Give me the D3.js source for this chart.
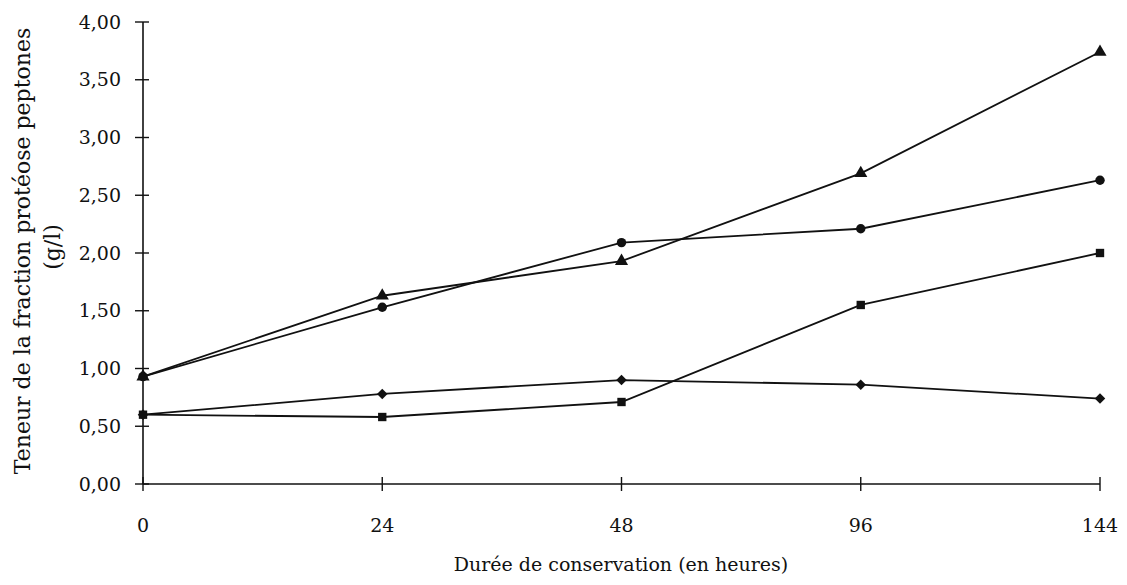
<!DOCTYPE html>
<html><head><meta charset="utf-8">
<script src="https://cdn.jsdelivr.net/npm/d3@7"></script>
<style>body{margin:0;background:#fff}svg{display:block}text{font-family:"DejaVu Serif","Liberation Serif",serif;fill:#111}</style>
</head><body><svg id="c" width="1127" height="585"></svg>
<script>
const categories = ["0","24","48","96","144"];
const yTicks = [0,0.5,1,1.5,2,2.5,3,3.5,4];
const triangleSeries = [0.93,1.63,1.93,2.69,3.74];
const circleSeries = [0.93,1.53,2.09,2.21,2.63];
const squareSeries = [0.60,0.58,0.71,1.55,2.00];
const diamondSeries = [0.60,0.78,0.90,0.86,0.74];
const xTitle = "Durée de conservation (en heures)";
const yTitle1 = "Teneur de la fraction protéose peptones";
const yTitle2 = "(g/l)";

const series = [
  {vals: diamondSeries, sym: d3.symbolDiamond2, size: 70},
  {vals: squareSeries, sym: d3.symbolSquare, size: 70},
  {vals: circleSeries, sym: d3.symbolCircle, size: 70},
  {vals: triangleSeries, sym: d3.symbolTriangle, size: 75}
];

const svg = d3.select("#c");
const x = d3.scalePoint().domain(categories).range([143,1100]);
const y = d3.scaleLinear().domain([0,4]).range([484,22]);
const fmt = v => d3.format(".2f")(v).replace(".", ",");

// y axis
const ya = svg.append("g").attr("transform","translate(143,0)");
ya.append("line").attr("x1",0).attr("x2",0).attr("y1",y(0)).attr("y2",y(4)).attr("stroke","#111").attr("stroke-width",1.6);
ya.selectAll("line.t").data(yTicks).join("line").attr("class","t")
  .attr("x1",-8).attr("x2",6).attr("y1",d=>y(d)).attr("y2",d=>y(d)).attr("stroke","#111").attr("stroke-width",1.4);
ya.selectAll("text").data(yTicks).join("text")
  .attr("x",-22).attr("y",d=>y(d)).attr("dy","0.35em").attr("text-anchor","end")
  .attr("font-size",19).text(fmt);

// x axis
const xa = svg.append("g").attr("transform","translate(0,484)");
xa.append("line").attr("x1",x(categories[0])).attr("x2",x(categories[categories.length-1])).attr("y1",0).attr("y2",0).attr("stroke","#111").attr("stroke-width",1.4);
xa.selectAll("line.t").data(categories).join("line").attr("class","t")
  .attr("x1",d=>x(d)).attr("x2",d=>x(d)).attr("y1",-7).attr("y2",7).attr("stroke","#111").attr("stroke-width",1.4);
xa.selectAll("text").data(categories).join("text")
  .attr("x",d=>x(d)).attr("y",48).attr("text-anchor","middle").attr("font-size",19).text(d=>d);

svg.append("text").attr("x",621).attr("y",571).attr("text-anchor","middle").attr("font-size",19).text(xTitle);
svg.append("text").attr("transform","translate(22,251) rotate(-90)").attr("dy","0.35em").attr("text-anchor","middle").attr("font-size",22).text(yTitle1);
svg.append("text").attr("transform","translate(52,247) rotate(-90)").attr("dy","0.35em").attr("text-anchor","middle").attr("font-size",22).text(yTitle2);

const line = d3.line().x((d,i)=>x(categories[i])).y(d=>y(d));
series.forEach(s=>{
  svg.append("path").attr("d",line(s.vals)).attr("fill","none").attr("stroke","#111").attr("stroke-width",1.8);
  svg.selectAll(null).data(s.vals).join("path")
    .attr("transform",(d,i)=>`translate(${x(categories[i])},${y(d)})`)
    .attr("d",d3.symbol().type(s.sym).size(s.size)).attr("fill","#111");
});
</script></body></html>
